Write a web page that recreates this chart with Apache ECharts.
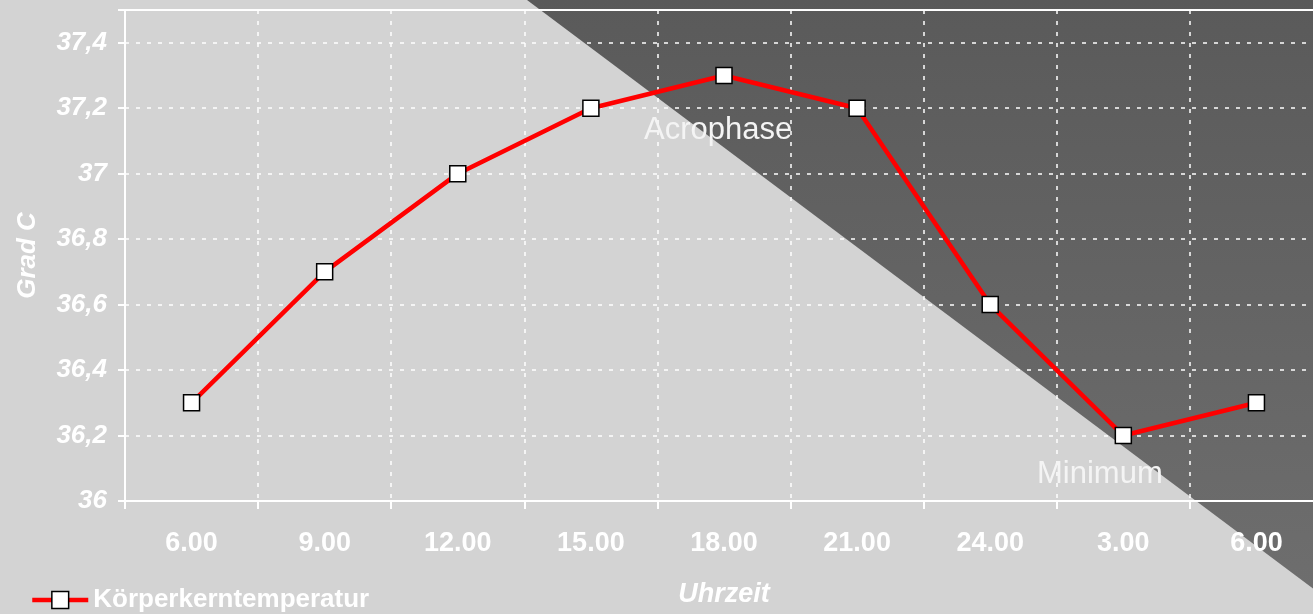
<!DOCTYPE html>
<html>
<head>
<meta charset="utf-8">
<style>
  html, body { margin: 0; padding: 0; background: #d3d3d3; overflow: hidden; }
  /* the plot area runs slightly past the right edge of the window */
  #chart { width: 1323px; height: 614px; }
</style>
<script src="https://cdn.jsdelivr.net/npm/echarts@6/dist/echarts.min.js"></script>
</head>
<body>
<div id="chart"></div>
<script>
// Core body temperature over a day (Grad C)
const hours = ['6.00', '9.00', '12.00', '15.00', '18.00', '21.00', '24.00', '3.00', '6.00'];
const temperature = [36.3, 36.7, 37.0, 37.2, 37.3, 37.2, 36.6, 36.2, 36.3];
const seriesName = 'Körperkerntemperatur';
const yMin = 36, yMax = 37.5, yStep = 0.2;

const chart = echarts.init(document.getElementById('chart'), null, { renderer: 'canvas' });

const fontFamily = 'Liberation Sans, Arial, sans-serif';

function fmtTemp(v) {
  if (Math.abs(v - yMax) < 1e-6) return '';
  let s = v.toFixed(1);
  if (s.endsWith('.0')) s = s.slice(0, -2);
  return s.replace('.', ',');
}

chart.setOption({
  backgroundColor: '#d3d3d3',
  animation: false,
  grid: {
    left: 125, top: 10, right: 0, bottom: 113,
    show: true,
    backgroundColor: 'transparent',
    borderColor: '#ffffff',
    borderWidth: 2
  },
  graphic: [
    {
      type: 'polygon',
      z: -10,
      silent: true,
      shape: { points: [[527, 0], [1323, 0], [1323, 596]] },
      style: {
        fill: new echarts.graphic.LinearGradient(0, 0, 0, 1, [
          { offset: 0, color: '#5a5a5a' },
          { offset: 1, color: '#6e6e6e' }
        ])
      }
    },
    {
      type: 'text',
      z: 5,
      left: 644, top: 115,
      style: { text: 'Acrophase', fill: '#f4f4f4', font: '31px ' + fontFamily }
    },
    {
      type: 'text',
      z: 5,
      left: 1037, top: 459,
      style: { text: 'Minimum', fill: '#f4f4f4', font: '31px ' + fontFamily }
    }
  ],
  legend: {
    left: 25, top: 582,
    itemWidth: 56, itemHeight: 21,
    lineStyle: { width: 4.5 },
    itemStyle: { borderWidth: 1.5, borderColor: '#000000' },
    textStyle: { color: '#ffffff', fontWeight: 'bold', fontSize: 26, fontFamily: fontFamily },
    data: [seriesName]
  },
  xAxis: {
    type: 'category',
    data: hours,
    boundaryGap: true,
    name: 'Uhrzeit',
    nameLocation: 'middle',
    nameGap: 80,
    nameTextStyle: { color: '#ffffff', fontWeight: 'bold', fontStyle: 'italic', fontSize: 27, fontFamily: fontFamily },
    axisLine: { lineStyle: { color: '#ffffff', width: 2 } },
    axisTick: { show: true, length: 8, lineStyle: { color: '#ffffff', width: 2 } },
    axisLabel: { color: '#ffffff', fontWeight: 'bold', fontSize: 27, fontFamily: fontFamily, margin: 29 },
    splitLine: { show: true, lineStyle: { color: '#ffffff', type: [4, 7], width: 1.5 } }
  },
  yAxis: {
    type: 'value',
    min: yMin, max: yMax, interval: yStep,
    name: 'Grad C',
    nameLocation: 'middle',
    nameGap: 84,
    nameTextStyle: { color: '#ffffff', fontWeight: 'bold', fontStyle: 'italic', fontSize: 26, fontFamily: fontFamily },
    axisLine: { show: true, lineStyle: { color: '#ffffff', width: 2 } },
    axisTick: { show: true, length: 7, lineStyle: { color: '#ffffff', width: 2 } },
    axisLabel: { color: '#ffffff', fontWeight: 'bold', fontStyle: 'italic', fontSize: 26, fontFamily: fontFamily, margin: 18, formatter: fmtTemp },
    splitLine: { show: true, lineStyle: { color: '#ffffff', type: [4, 7], width: 1.5 } }
  },
  series: [{
    name: seriesName,
    type: 'line',
    data: temperature,
    symbol: 'rect',
    symbolSize: 16,
    lineStyle: { color: '#ff0000', width: 4.5 },
    itemStyle: { color: '#ffffff', borderColor: '#000000', borderWidth: 1.5 },
    z: 3
  }]
});
</script>
</body>
</html>
